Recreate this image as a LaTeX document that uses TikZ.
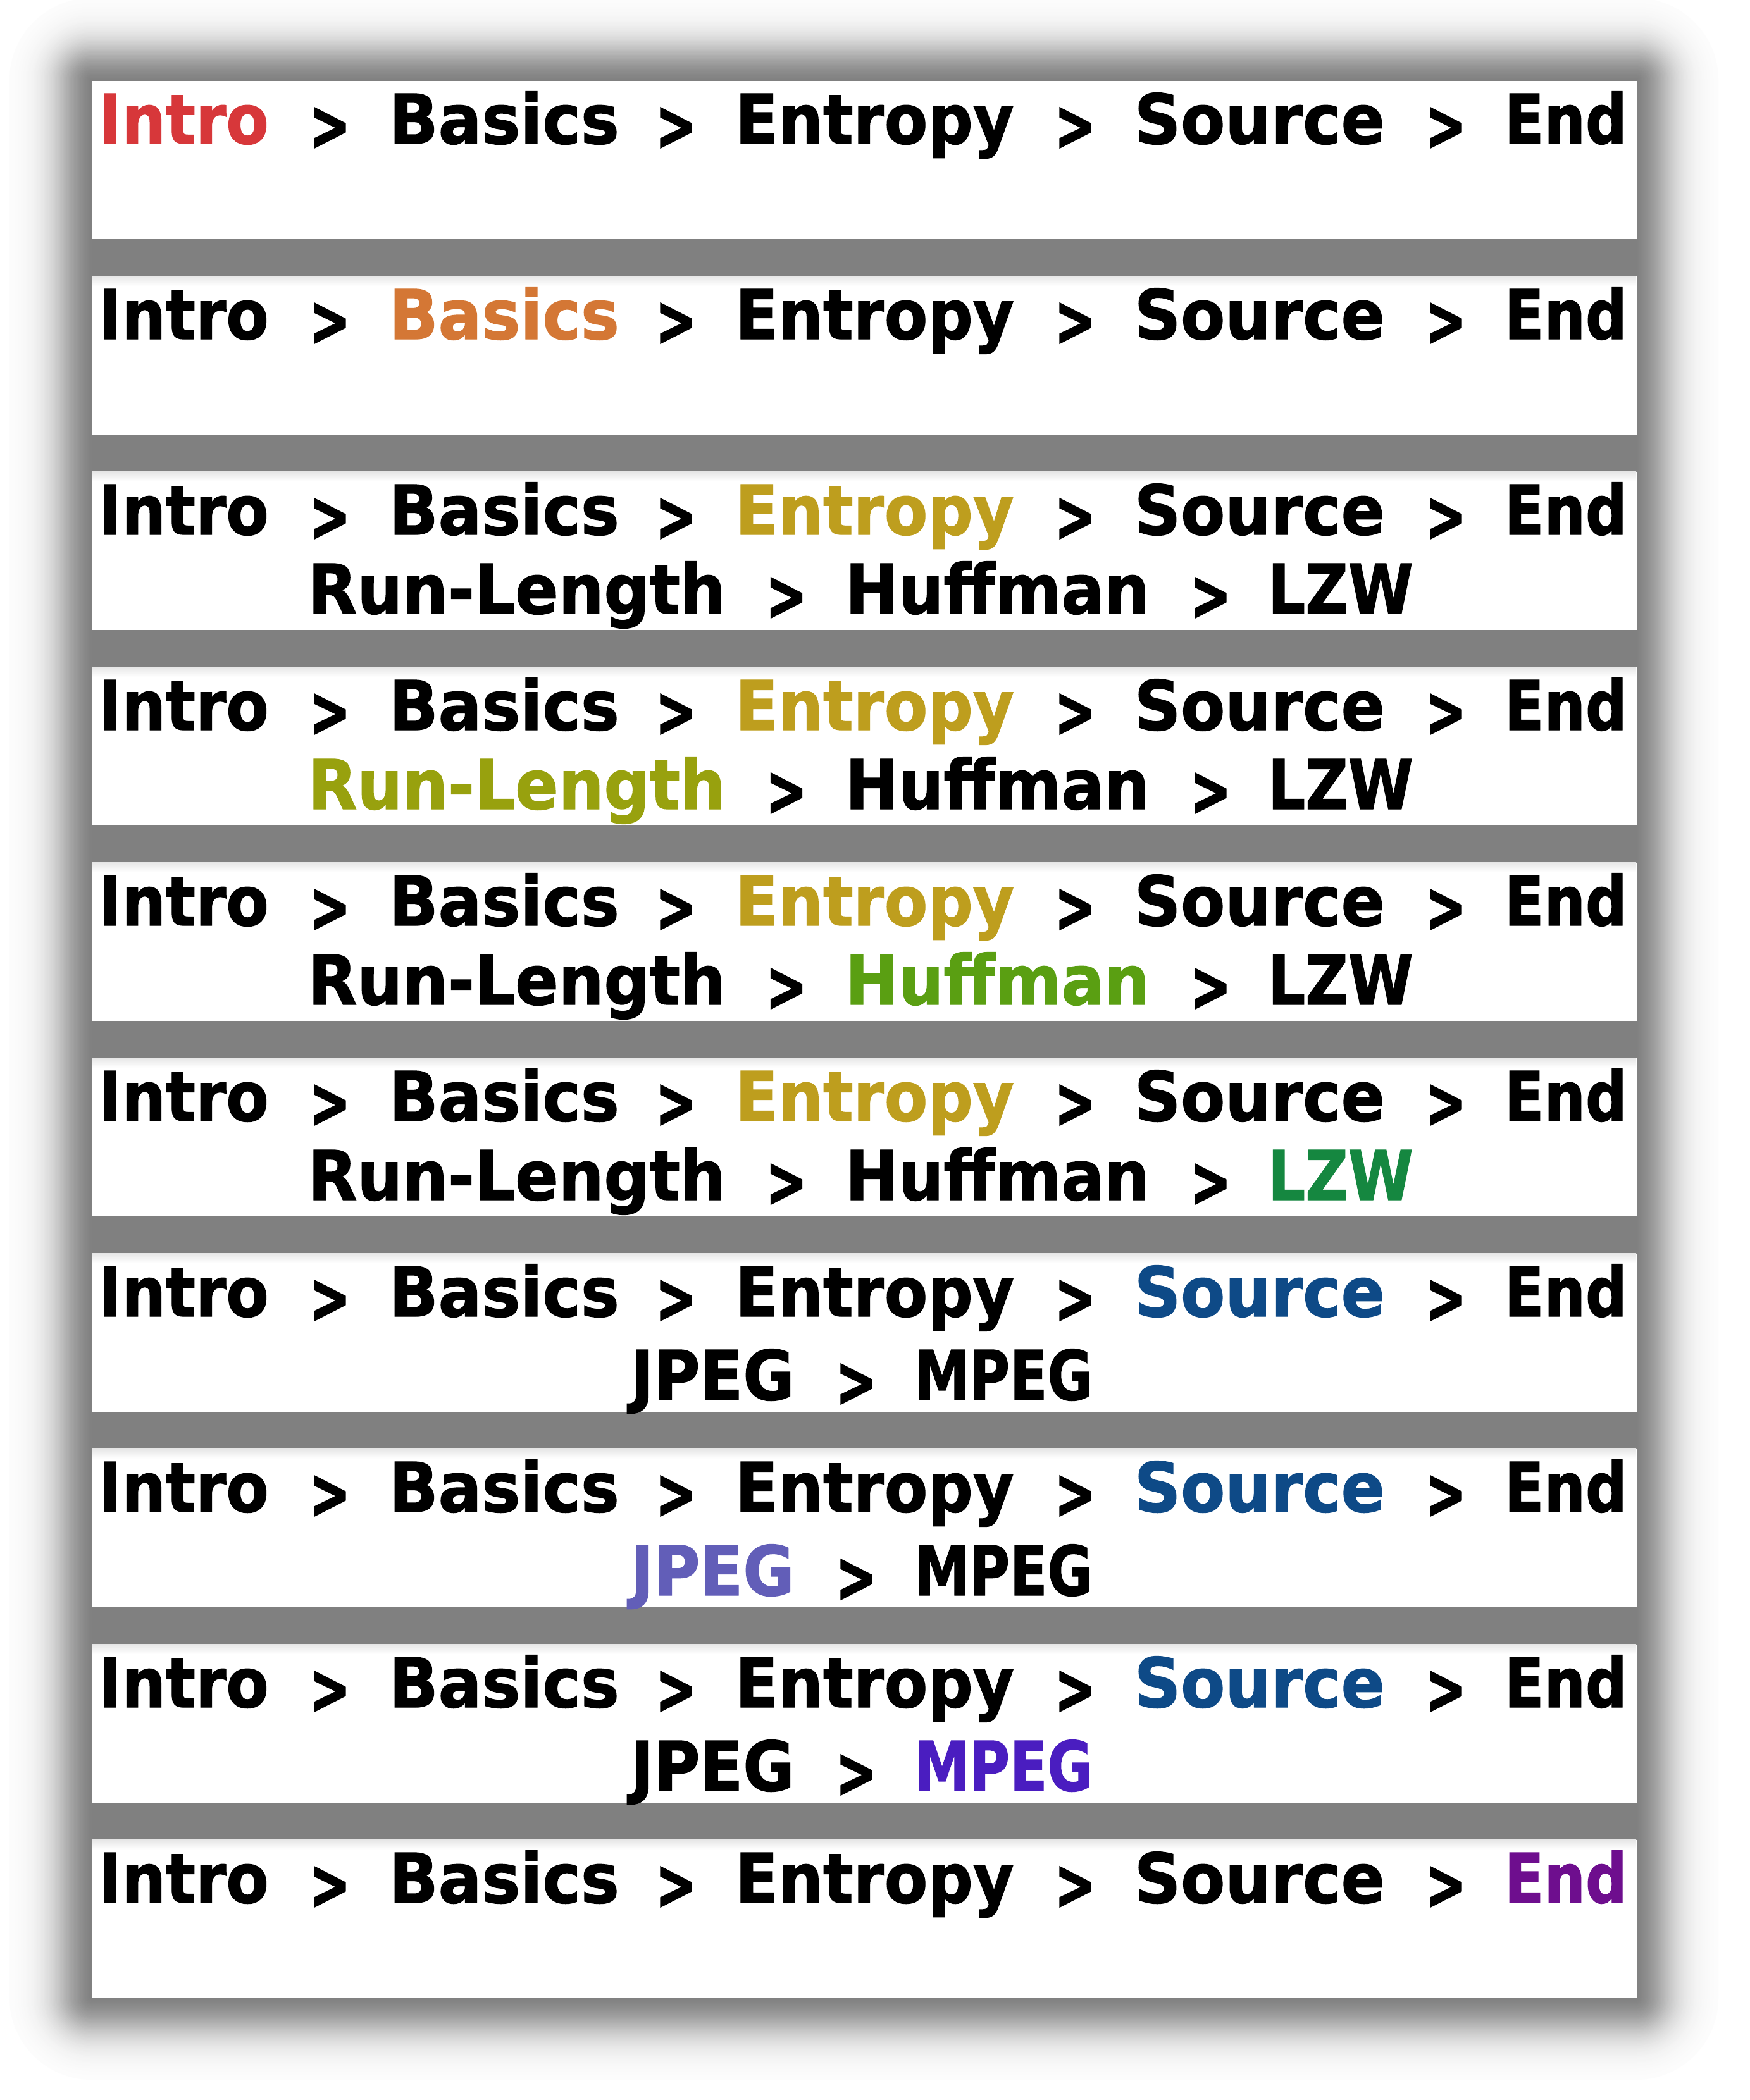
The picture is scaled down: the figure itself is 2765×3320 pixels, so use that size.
\documentclass[tikz,border=0pt]{standalone}
\usepackage{fontspec}
\setmainfont{DejaVu Sans}
\newfontfamily\crumbface{DejaVu Sans}[BoldFeatures={FakeBold=1.3}]
\newfontfamily\chevface{DejaVu Sans}[BoldFeatures={FakeBold=3}]
\usepackage{graphicx}

% one drawing unit = one pixel of the final image
\newlength\pxu
\setlength\pxu{0.25pt}

\definecolor{cIntro}{RGB}{215,55,58}
\definecolor{cBasics}{RGB}{212,119,53}
\definecolor{cEntropy}{RGB}{190,158,30}
\definecolor{cRun}{RGB}{152,161,14}
\definecolor{cHuff}{RGB}{90,159,18}
\definecolor{cLZW}{RGB}{21,135,64}
\definecolor{cSource}{RGB}{14,74,135}
\definecolor{cJPEG}{RGB}{98,94,184}
\definecolor{cMPEG}{RGB}{74,29,192}
\definecolor{cEnd}{RGB}{110,14,142}

\newcommand\crumbfont{\crumbface\fontsize{27.1pt}{30pt}\selectfont\bfseries}
% a word stretched to a given width (in px), height kept
\newcommand\wordw[2]{\resizebox{#1\pxu}{\height}{#2}}
% the separator between crumbs
\newcommand\chev{\raisebox{-9\pxu}{\resizebox{64\pxu}{\height}{\chevface\bfseries >}}}

\tikzset{
  crumb/.style={inner sep=0pt, anchor=base west, font=\crumbfont},
  sepmark/.style={inner sep=0pt, anchor=base, font=\crumbfont, text=black},
  panel/.style={fill=white, inner sep=0pt, anchor=north west,
    minimum width=2441\pxu, minimum height=250\pxu},
}

% panel #1 with the main trail; #2..#6 = colours of the five sections
\newcommand\trail[6]{%
  \pgfmathsetmacro\pTop{127+309*#1}%
  \pgfmathsetmacro\pBase{\pTop+100}%
  \node[panel] (p#1) at (145,\pTop) {};
  \ifnum#1>0
    \shade[top color=black!10, bottom color=white] (145,\pTop) rectangle (2586,\pTop+16);
  \fi
  \node[crumb, text=#2] (p#1-intro)   at (155,\pBase)  {\wordw{269}{Intro}};
  \node[sepmark]        (p#1-s1)      at (521.5,\pBase) {\chev};
  \node[crumb, text=#3] (p#1-basics)  at (614,\pBase)  {\wordw{364}{Basics}};
  \node[sepmark]        (p#1-s2)      at (1068.5,\pBase) {\chev};
  \node[crumb, text=#4] (p#1-entropy) at (1161,\pBase) {\wordw{441}{Entropy}};
  \node[sepmark]        (p#1-s3)      at (1699.5,\pBase) {\chev};
  \node[crumb, text=#5] (p#1-source)  at (1792,\pBase) {\wordw{396}{Source}};
  \node[sepmark]        (p#1-s4)      at (2285.5,\pBase) {\chev};
  \node[crumb, text=#6] (p#1-end)     at (2377,\pBase) {\wordw{194}{End}};
}

% second line under Entropy
\newcommand\entline[4]{%
  \pgfmathsetmacro\pBase{127+309*#1+225}%
  \node[crumb, text=#2] (p#1-run)  at (486,\pBase)  {\wordw{660}{Run-Length}};
  \node[sepmark]        (p#1-t1)   at (1243,\pBase) {\chev};
  \node[crumb, text=#3] (p#1-huff) at (1335,\pBase) {\wordw{481}{Huffman}};
  \node[sepmark]        (p#1-t2)   at (1913.5,\pBase) {\chev};
  \node[crumb, text=#4] (p#1-lzw)  at (2003,\pBase) {\wordw{230}{LZW}};
}

% second line under Source
\newcommand\srcline[3]{%
  \pgfmathsetmacro\pBase{127+309*#1+232}%
  \node[crumb, text=#2] (p#1-jpeg) at (996,\pBase)  {\wordw{259}{JPEG}};
  \node[sepmark]        (p#1-u1)   at (1353.5,\pBase) {\chev};
  \node[crumb, text=#3] (p#1-mpeg) at (1445,\pBase) {\wordw{281}{MPEG}};
}

\begin{document}
\begin{tikzpicture}[x=0.25pt, y=-0.25pt]
  \useasboundingbox (0,0) rectangle (2765,3320);
  \fill[white] (0,0) rectangle (2765,3320);

  % soft drop shadow behind the stack of panels: opaque rings, lightest outside
  \foreach \r in {130,128,...,0}{
    \pgfmathsetmacro\dk{50*(1-1/(1+exp(-(\r-45)/21)))/0.8951}
    \pgfmathsetmacro\rr{max(\r,0.5)*0.25}
    \fill[black!\dk, rounded corners=\rr pt]
      (145-\r,127-\r) rectangle (2586+\r,3158+\r);
  }

  \trail{0}{cIntro}{black}{black}{black}{black}
  \trail{1}{black}{cBasics}{black}{black}{black}
  \trail{2}{black}{black}{cEntropy}{black}{black}
  \entline{2}{black}{black}{black}
  \trail{3}{black}{black}{cEntropy}{black}{black}
  \entline{3}{cRun}{black}{black}
  \trail{4}{black}{black}{cEntropy}{black}{black}
  \entline{4}{black}{cHuff}{black}
  \trail{5}{black}{black}{cEntropy}{black}{black}
  \entline{5}{black}{black}{cLZW}
  \trail{6}{black}{black}{black}{cSource}{black}
  \srcline{6}{black}{black}
  \trail{7}{black}{black}{black}{cSource}{black}
  \srcline{7}{cJPEG}{black}
  \trail{8}{black}{black}{black}{cSource}{black}
  \srcline{8}{black}{cMPEG}
  \trail{9}{black}{black}{black}{black}{cEnd}
\end{tikzpicture}
\end{document}
